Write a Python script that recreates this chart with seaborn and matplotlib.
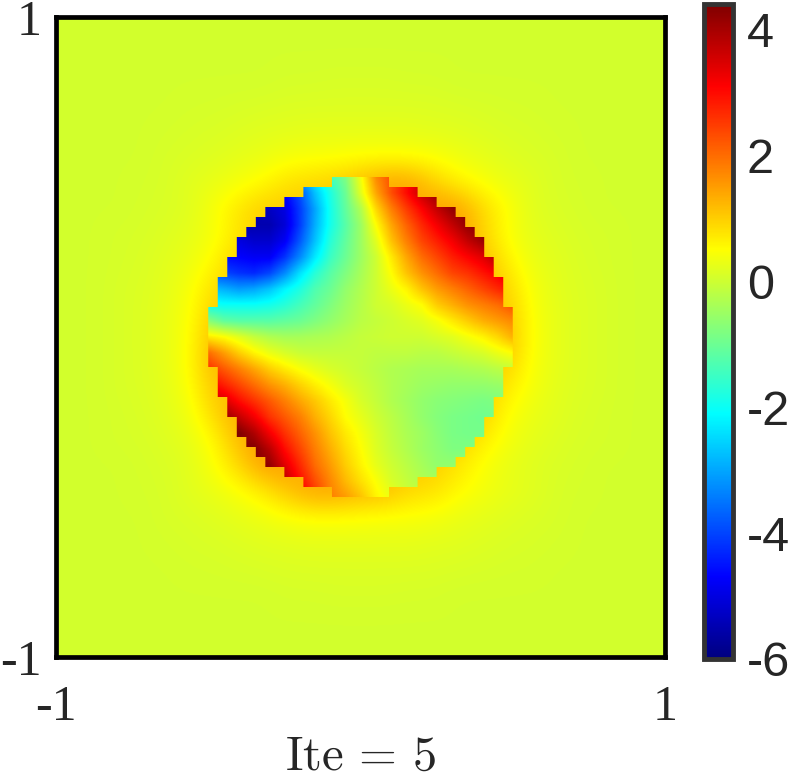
import numpy as np
import matplotlib
matplotlib.use("Agg")
import matplotlib.pyplot as plt
from matplotlib.colors import LinearSegmentedColormap
from matplotlib.path import Path
import seaborn as sns

# field outside the disc (top row first), step 1/12
outer_field = [
    [.05,.05,.05,.05,.05,.05,.05,.05,.05,.05,.05,.05,.05,.05,.05,.05,.05,.05,.05,.05,.05,.05,.05,.05,.05],
    [.05,.05,.05,.05,.05,.05,.05,.05,.05,.05,.05,.05,.05,.05,.05,.05,.05,.05,.05,.05,.05,.05,.05,.05,.05],
    [.05,.05,.05,.05,.05,.05,.05,.05,.05,.08,.08,.10,.10,.10,.08,.08,.05,.05,.05,.05,.05,.05,.05,.05,.05],
    [.05,.05,.05,.05,.05,.07,.08,.10,.12,.14,.15,.15,.15,.15,.15,.14,.12,.10,.08,.07,.05,.05,.05,.05,.05],
    [.05,.05,.05,.05,.07,.10,.12,.16,.20,.22,.25,.25,.25,.25,.25,.22,.20,.16,.12,.10,.07,.05,.05,.05,.05],
    [.05,.05,.05,.05,.10,.13,.18,.24,.30,.40,.43,.45,.50,.50,.48,.45,.34,.26,.18,.13,.10,.05,.05,.05,.05],
    [.05,.05,.05,.07,.10,.20,.28,.40,.55,.80,.90,1.0,1.2,1.5,1.5,1.0,.65,.45,.30,.20,.10,.07,.05,.05,.05],
    [.05,.05,.05,.08,.12,.18,.43,.75,1.0,1.0,1.0,1.0,1.0,1.0,1.2,1.5,1.5,.90,.50,.20,.12,.08,.05,.05,.05],
    [.05,.05,.08,.10,.16,.24,.40,.75,1.0,1.0,1.0,1.0,1.0,1.0,1.0,1.0,1.5,.95,.45,.24,.16,.10,.08,.05,.05],
    [.05,.05,.08,.12,.20,.30,.55,1.0,1.0,1.0,1.0,1.0,1.0,1.0,1.0,1.0,1.5,1.2,.65,.30,.20,.12,.08,.05,.05],
    [.05,.05,.10,.14,.22,.40,.80,1.0,1.0,1.0,1.0,1.0,1.0,1.0,1.0,1.0,1.0,1.3,.90,.40,.22,.14,.10,.05,.05],
    [.05,.05,.10,.15,.25,.45,1.0,1.0,1.0,1.0,1.0,1.0,1.0,1.0,1.0,1.0,1.0,1.0,1.1,.45,.25,.15,.10,.05,.05],
    [.05,.05,.10,.15,.25,.48,1.2,1.0,1.0,1.0,1.0,1.0,1.0,1.0,1.0,1.0,1.0,1.0,1.2,.48,.25,.15,.10,.05,.05],
    [.05,.05,.10,.15,.25,.50,1.3,1.0,1.0,1.0,1.0,1.0,1.0,1.0,1.0,1.0,1.0,1.0,1.0,.45,.25,.15,.10,.05,.05],
    [.05,.05,.10,.14,.22,.45,1.1,1.0,1.0,1.0,1.0,1.0,1.0,1.0,1.0,1.0,1.0,1.0,.70,.40,.22,.14,.10,.05,.05],
    [.05,.05,.08,.12,.20,.35,.90,1.4,1.0,1.0,1.0,1.0,1.0,1.0,1.0,1.0,1.0,1.0,.50,.30,.20,.12,.08,.05,.05],
    [.05,.05,.08,.10,.16,.26,.55,1.2,1.5,1.0,1.0,1.0,1.0,1.0,1.0,1.0,1.0,.70,.40,.24,.16,.10,.08,.05,.05],
    [.05,.05,.05,.08,.12,.20,.45,.90,1.5,1.5,1.0,1.0,1.0,1.0,1.0,1.0,.75,.45,.28,.18,.12,.08,.05,.05,.05],
    [.05,.05,.05,.07,.10,.20,.30,.45,.70,1.1,1.5,1.5,1.3,1.2,.90,.80,.55,.40,.28,.20,.10,.07,.05,.05,.05],
    [.05,.05,.05,.05,.10,.13,.18,.26,.34,.45,.50,.50,.48,.45,.43,.40,.30,.24,.18,.13,.10,.05,.05,.05,.05],
    [.05,.05,.05,.05,.07,.10,.12,.16,.20,.22,.25,.25,.25,.25,.25,.22,.20,.16,.12,.10,.07,.05,.05,.05,.05],
    [.05,.05,.05,.05,.05,.07,.08,.10,.12,.14,.15,.15,.15,.15,.15,.14,.12,.10,.08,.07,.05,.05,.05,.05,.05],
    [.05,.05,.05,.05,.05,.05,.05,.05,.05,.08,.08,.10,.10,.10,.08,.08,.05,.05,.05,.05,.05,.05,.05,.05,.05],
    [.05,.05,.05,.05,.05,.05,.05,.05,.05,.05,.05,.05,.05,.05,.05,.05,.05,.05,.05,.05,.05,.05,.05,.05,.05],
    [.05,.05,.05,.05,.05,.05,.05,.05,.05,.05,.05,.05,.05,.05,.05,.05,.05,.05,.05,.05,.05,.05,.05,.05,.05],
]

# field inside the disc, x and y from -0.5 to 0.5 in steps of 0.05 (top row first)
inner_field = [
    [-5,-5,-5,-5,-5,-4,-3,-2.2,-1.4,-.8,.4,1.7,2.3,3,3.6,4,4.4,4.4,4.4,4.4,4.4],
    [-5.5,-5.5,-5.5,-5.5,-5.3,-4.7,-3.9,-2.7,-1.8,-1,.2,1.4,2.3,3,3.7,4.2,4.4,4.4,4.4,4.4,4.4],
    [-5.6,-5.6,-5.6,-5.5,-5.3,-5,-4.1,-3,-1.9,-1.1,-.3,.9,1.8,2.5,3.1,3.7,4.2,4.4,4.4,4.4,4.4],
    [-5.6,-5.6,-5.6,-5.5,-5.5,-5.1,-4.1,-2.9,-1.9,-1.2,-.5,.5,1.4,2.1,2.7,3.2,3.7,4.2,4.4,4.4,4.4],
    [-4.9,-4.9,-5,-5.2,-5.2,-4.8,-3.8,-2.7,-1.7,-1.1,-.5,.2,1.1,1.8,2.4,2.8,3.2,3.7,4.1,4.4,4.4],
    [-4.6,-4.6,-4.7,-4.8,-4.8,-4.2,-3.3,-2.3,-1.5,-1,-.5,0,.7,1.4,2,2.4,2.8,3.1,3.4,3.9,4.2],
    [-3.8,-4,-4.2,-4.3,-4,-3.3,-2.4,-1.7,-1.2,-.8,-.4,0,.5,1.1,1.6,2,2.4,2.6,2.9,3.2,3.5],
    [-2.7,-2.9,-3.1,-3,-2.7,-2.2,-1.8,-1.3,-1,-.6,-.3,0,.3,.6,1.1,1.5,1.8,2.1,2.4,2.7,3],
    [-1.9,-2,-2,-2,-1.9,-1.7,-1.4,-1.1,-.8,-.5,-.25,0,.1,.3,.5,1,1.3,1.6,1.8,2,2.3],
    [-.7,-1.1,-1.2,-1.2,-1.2,-1.1,-1,-.8,-.6,-.4,-.2,-.1,0,.1,.2,.4,.7,1,1.3,1.5,1.7],
    [.7,.5,.2,-.1,-.3,-.4,-.4,-.35,-.3,-.2,-.1,-.05,0,0,0,.1,.2,.4,.6,.9,1.3],
    [2,1.5,1,.6,.3,.1,-.05,-.1,-.1,-.1,-.1,-.15,-.15,-.15,-.2,-.2,-.1,0,.1,.3,.5],
    [2.6,2.2,1.8,1.4,1,.7,.45,.25,.1,0,-.1,-.2,-.3,-.35,-.4,-.4,-.4,-.35,-.3,-.2,-.1],
    [3.2,2.8,2.4,2,1.6,1.3,.95,.65,.4,.15,0,-.15,-.3,-.4,-.5,-.55,-.6,-.6,-.6,-.55,-.5],
    [3.6,3.5,3,2.6,2.2,1.8,1.4,1.05,.7,.4,.1,-.1,-.3,-.45,-.6,-.7,-.75,-.8,-.85,-.8,-.7],
    [4.4,4.2,3.7,3.2,2.6,2.2,1.8,1.3,.9,.5,.25,0,-.2,-.4,-.6,-.75,-.85,-.9,-.95,-.9,-.9],
    [4.4,4.4,4.4,3.9,3.2,2.6,2.1,1.6,1.1,.7,.4,.1,-.15,-.35,-.5,-.7,-.85,-.9,-.9,-.9,-.9],
    [4.4,4.4,4.4,4.4,3.8,3,2.4,1.8,1.3,.85,.5,.15,-.1,-.3,-.5,-.65,-.8,-.8,-.8,-.8,-.8],
    [4.4,4.4,4.4,4.4,4.2,3.4,2.7,2,1.5,1,.6,.25,0,-.2,-.4,-.6,-.6,-.6,-.6,-.6,-.6],
    [4.4,4.4,4.4,4.4,4.4,3.8,3,2.3,1.7,1.2,.8,.45,.1,-.1,-.3,-.4,-.4,-.4,-.4,-.4,-.4],
    [4.4,4.4,4.4,4.4,4.4,4.2,3.4,2.6,1.8,1.5,1.1,.6,.3,0,-.1,-.2,-.2,-.2,-.2,-.2,-.2],
]

cbar_ticks = [-6, -4, -2, 0, 2, 4]
vmin, vmax = -6, 4.4
solver_cells = 64
disc_radius = 0.495

jet = LinearSegmentedColormap.from_list("matlab_jet", [
    (0, (0, 0, .5)), (.125, (0, 0, 1)), (.375, (0, 1, 1)),
    (.625, (1, 1, 0)), (.875, (1, 0, 0)), (1, (.5, 0, 0))], N=512)

sns.set_theme(style="white")
plt.rcParams["mathtext.fontset"] = "cm"
plt.rcParams["axes.unicode_minus"] = False

W, H = 791, 779
fig = plt.figure(figsize=(W / 100, H / 100), dpi=100)
ax = fig.add_axes([56 / W, 1 - 657 / H, 609 / W, 640 / H])
cax = fig.add_axes([704 / W, 1 - 659 / H, 29 / W, 655 / H])

n = len(outer_field)
sns.heatmap(np.array(outer_field), ax=ax, cbar_ax=cax, cmap=jet, vmin=vmin, vmax=vmax,
            xticklabels=False, yticklabels=False, cbar_kws={"ticks": cbar_ticks})


def to_cell(v):
    return (np.asarray(v) + 1) / 2 * n


# same grid as the heatmap, smoothed when drawn
ax.imshow(np.array(outer_field), cmap=jet, vmin=vmin, vmax=vmax, aspect="auto",
          interpolation="bicubic", extent=(0, n, n, 0), origin="upper", zorder=2)

# inner field clipped to the disc as the solver grid sees it, hence the staircase edge
h = 2 / solver_cells
rects = []
for row in range(solver_cells):
    yc = -1 + (row + .5) * h
    for col in range(solver_cells):
        xc = -1 + (col + .5) * h
        if xc ** 2 + yc ** 2 < disc_radius ** 2:
            x0, x1 = to_cell([xc - h / 2, xc + h / 2])
            y0, y1 = to_cell([yc - h / 2, yc + h / 2])
            rects.append(Path([(x0, y0), (x1, y0), (x1, y1), (x0, y1), (x0, y0)], closed=True))
stairs = Path.make_compound_path(*rects)

lo, hi = to_cell([-.525, .525])
inner = ax.imshow(np.array(inner_field), cmap=jet, vmin=vmin, vmax=vmax, aspect="auto",
                  interpolation="bilinear", extent=(lo, hi, hi, lo), origin="upper", zorder=3)
inner.set_clip_path(stairs, transform=ax.transData)

ax.set_xlim(0, n)
ax.set_ylim(n, 0)

for spine in ax.spines.values():
    spine.set_visible(True)
    spine.set_color("black")
    spine.set_linewidth(3.4)
    spine.set_zorder(5)

ax.set_xticks([0, n])
ax.set_xticklabels(["-1", "1"], family="Liberation Serif", fontsize=36, color="#262626")
ax.set_yticks([0, n])
ax.set_yticklabels(["1", "-1"], family="Liberation Serif", fontsize=36, color="#262626")
ax.tick_params(length=0, bottom=True, left=True)
ax.tick_params(axis="x", pad=20)
ax.tick_params(axis="y", pad=10)
ax.set_xlabel(r"$\mathrm{Ite}\,=\,5$", fontsize=35, color="#262626", labelpad=0)

cb = ax.collections[0].colorbar
cb.outline.set_visible(True)
cb.outline.set_linewidth(3.5)
cb.outline.set_edgecolor("#333333")
cax.tick_params(direction="in", length=7, width=3, color="#333333", right=True, pad=10,
                labelsize=35, labelcolor="#262626")
for t in cax.get_yticklabels():
    t.set_family("Liberation Sans")

fig.savefig("out.png", dpi=100)
